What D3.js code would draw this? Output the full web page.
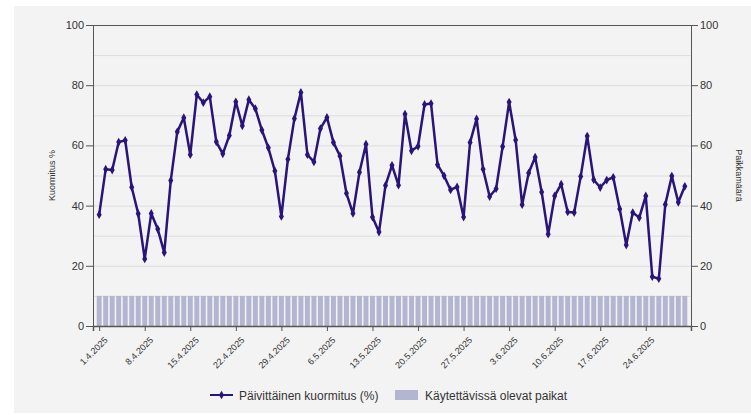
<!DOCTYPE html>
<html>
<head>
<meta charset="utf-8">
<script src="https://cdn.jsdelivr.net/npm/d3@7"></script>
<style>
  body { margin: 0; background: #ffffff; }
  svg { display: block; font-family: "Liberation Sans", Arial, sans-serif; }
</style>
</head>
<body>
<svg id="chart"></svg>
<script>
// daily load % from 1.4.2025 to 30.6.2025
var loadValues = [
  37, 52.1, 51.8, 61.1, 61.7, 46.1, 37.3, 22.3, 37.4, 32.2,
  24.4, 48.3, 64.5, 69.2, 56.9, 76.9, 74.2, 76.2, 61.2, 57.2,
  63.3, 74.5, 66.5, 75.2, 72.2, 65.1, 59.2, 51.5, 36.4, 55.4,
  68.9, 77.6, 56.9, 54.5, 65.6, 69.3, 61.0, 56.5, 44.1, 37.4,
  51.1, 60.4, 36.2, 31.2, 46.7, 53.4, 46.8, 70.4, 58.2, 59.7,
  73.6, 73.9, 53.6, 49.9, 45.2, 46.2, 36.2, 61.0, 68.8, 52.1,
  43.0, 45.6, 59.6, 74.4, 61.8, 40.3, 50.8, 56.1, 44.5, 30.5,
  43.2, 47.1, 37.9, 37.7, 49.7, 63.1, 48.6, 46.0, 48.5, 49.4,
  38.9, 26.9, 37.7, 36.0, 43.2, 16.4, 15.7, 40.4, 49.8, 41.1,
  46.4
];
// available places per day
var placesValues = loadValues.map(function() { return 10; });

var startDate = new Date(2025, 3, 1);
var days = loadValues.map(function(d, i) {
  return d3.timeDay.offset(startDate, i);
});
var yTicks = [0, 20, 40, 60, 80, 100];
var seriesNames = ["Päivittäinen kuormitus (%)", "Käytettävissä olevat paikat"];

var screen = { width: 751, height: 415 };
var margins = { top: 25, bottom: 89, left: 93, right: 60 };
var width = screen.width - margins.left - margins.right;
var height = screen.height - margins.top - margins.bottom;

var svg = d3.select("#chart")
  .attr("width", screen.width)
  .attr("height", screen.height);

// gray panel
svg.append("rect")
  .attr("x", 14).attr("y", 6)
  .attr("width", screen.width - 14).attr("height", 407)
  .attr("fill", "#f3f3f3");

var xScale = d3.scalePoint()
  .domain(d3.range(days.length))
  .range([0, width])
  .padding(0.95);
var yScale = d3.scaleLinear().domain([0, 100]).range([height, 0]);
var y2Scale = d3.scaleLinear().domain([0, 100]).range([height, 0]);

var plot = svg.append("g")
  .attr("transform", "translate(" + margins.left + "," + margins.top + ")");

// grid every 10
plot.append("g").selectAll("line")
  .data(d3.range(10, 100, 10))
  .enter().append("line")
  .attr("x1", 0).attr("x2", width)
  .attr("y1", function(d) { return yScale(d) + 0.5; })
  .attr("y2", function(d) { return yScale(d) + 0.5; })
  .attr("stroke", "#dcdcdc")
  .attr("stroke-width", 1);

// bars
var step = xScale.step();
plot.append("g").selectAll("rect")
  .data(placesValues)
  .enter().append("rect")
  .attr("x", function(d, i) { return xScale(i) - step * 0.38; })
  .attr("width", step * 0.76)
  .attr("y", function(d) { return y2Scale(d); })
  .attr("height", function(d) { return height - y2Scale(d); })
  .attr("fill", "#b3b5d1");

// top border
plot.append("line")
  .attr("x1", 0).attr("x2", width)
  .attr("y1", 0.5).attr("y2", 0.5)
  .attr("stroke", "#555");

// left axis
var yAxis = d3.axisLeft(yScale).tickValues(yTicks).tickSize(7).tickPadding(2);
var gy = plot.append("g").call(yAxis);
gy.select(".domain").attr("stroke", "#555");
gy.selectAll(".tick line").attr("stroke", "#555");
gy.selectAll("text").attr("font-size", 11).attr("fill", "#333")
  .attr("font-family", "Liberation Sans, Arial, sans-serif");

// right axis
var y2Axis = d3.axisRight(y2Scale).tickValues(yTicks).tickSize(7).tickPadding(2);
var gy2 = plot.append("g").attr("transform", "translate(" + width + ",0)").call(y2Axis);
gy2.select(".domain").attr("stroke", "#555");
gy2.selectAll(".tick line").attr("stroke", "#555");
gy2.selectAll("text").attr("font-size", 11).attr("fill", "#333")
  .attr("font-family", "Liberation Sans, Arial, sans-serif");

// bottom axis, weekly ticks
var fmt = d3.timeFormat("%-d.%-m.%Y");
var weekIdx = d3.range(0, days.length, 7);
var xAxis = d3.axisBottom(xScale)
  .tickValues(weekIdx)
  .tickSize(5)
  .tickFormat(function(i) { return fmt(days[i]); });
var gx = plot.append("g").attr("transform", "translate(0," + height + ")").call(xAxis);
gx.select(".domain").attr("stroke", "#555").attr("stroke-width", 1.5);
gx.selectAll(".tick line").attr("stroke", "#555");
gx.selectAll("text")
  .attr("font-size", 9).attr("fill", "#333")
  .attr("font-family", "Liberation Sans, Arial, sans-serif")
  .attr("text-anchor", "end")
  .attr("dy", 0)
  .attr("transform", "translate(3,9) rotate(-45)");

// line
var line = d3.line()
  .x(function(d, i) { return xScale(i); })
  .y(function(d) { return yScale(d); });
plot.append("path")
  .datum(loadValues)
  .attr("d", line)
  .attr("fill", "none")
  .attr("stroke", "#2b1479")
  .attr("stroke-width", 2.5)
  .attr("stroke-linejoin", "round");

var marker = d3.symbol().type(d3.symbolDiamond).size(22);
plot.append("g").selectAll("path")
  .data(loadValues)
  .enter().append("path")
  .attr("d", marker)
  .attr("transform", function(d, i) { return "translate(" + xScale(i) + "," + yScale(d) + ")"; })
  .attr("fill", "#2b1479");

// axis titles
svg.append("text")
  .attr("transform", "translate(55," + (margins.top + height / 2) + ") rotate(-90)")
  .attr("text-anchor", "middle")
  .attr("font-size", 9).attr("fill", "#333")
  .text("Kuormitus %");
svg.append("text")
  .attr("transform", "translate(736," + (margins.top + height / 2) + ") rotate(90)")
  .attr("text-anchor", "middle")
  .attr("font-size", 9).attr("fill", "#333")
  .text("Paikkamäärä");

// legend
var legend = svg.append("g").attr("transform", "translate(210,395)");
legend.append("line")
  .attr("x1", 0).attr("x2", 23).attr("y1", 0).attr("y2", 0)
  .attr("stroke", "#2b1479").attr("stroke-width", 2);
legend.append("path")
  .attr("d", marker)
  .attr("transform", "translate(11.5,0)")
  .attr("fill", "#2b1479");
legend.append("text")
  .attr("x", 29).attr("y", 4.5)
  .attr("font-size", 12).attr("fill", "#333")
  .text(seriesNames[0]);
legend.append("rect")
  .attr("x", 185).attr("y", -5).attr("width", 23).attr("height", 10)
  .attr("fill", "#b3b5d1");
legend.append("text")
  .attr("x", 215).attr("y", 4.5)
  .attr("font-size", 12).attr("fill", "#333")
  .text(seriesNames[1]);
</script>
</body>
</html>
